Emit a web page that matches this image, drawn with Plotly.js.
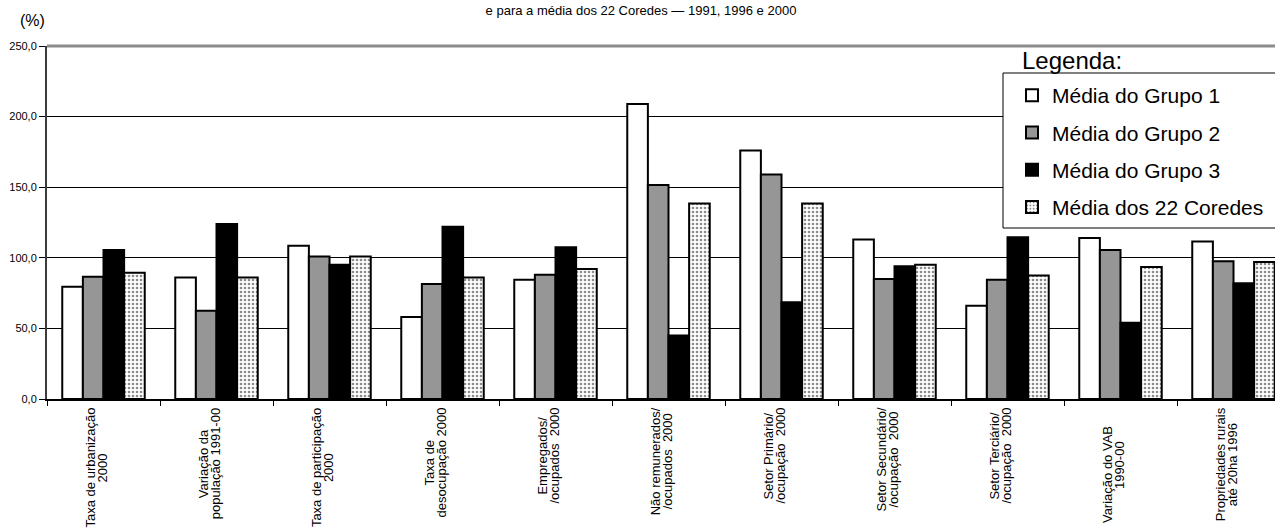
<!DOCTYPE html>
<html>
<head>
<meta charset="utf-8">
<script src="https://cdn.plot.ly/plotly-3.0.1.min.js"></script>
<style>html,body{margin:0;padding:0;background:#fff;overflow:hidden}</style>
</head>
<body>
<div id="chart" style="width:1275px;height:529px"></div>
<script>
// Category labels (x axis)
const categories = [
  "Taxa de urbanização<br>2000",
  "Variação da<br>população 1991-00",
  "Taxa de participação<br>2000",
  "Taxa de<br>desocupação 2000",
  "Empregados/<br>/ocupados\u00a0 2000",
  "Não remunerados/<br>/ocupados\u00a0 2000",
  "Setor Primário/<br>/ocupação\u00a0 2000",
  "Setor Secundário/<br>/ocupação\u00a0 2000",
  "Setor Terciário/<br>/ocupação\u00a0 2000",
  "Variação do VAB\u00a0\u00a0\u00a0\u00a0\u00a0<br>1990-00",
  "Propriedades rurais<br>até 20ha 1996"
];
// Series values (%)
const grupo1 = [79.5, 86, 108.5, 58, 84.5, 209, 176, 113, 66, 114, 111.5];
const grupo2 = [86.5, 62.5, 101, 81.5, 88, 151.5, 159, 85, 84.5, 105.5, 97.5];
const grupo3 = [105.5, 124, 95, 122, 107.5, 45, 68.5, 94, 114.5, 54, 82];
const coredes22 = [89.5, 86, 101, 86, 92, 138.5, 138.5, 95, 87.5, 93.5, 97];
const seriesNames = ["Média do Grupo 1", "Média do Grupo 2", "Média do Grupo 3", "Média dos 22 Coredes"];
const yTicks = [0, 50, 100, 150, 200, 250];

const FONT = "Liberation Sans, Arial, sans-serif";
const LABEL_SIZE = 13;
const LINE_PITCH = 12;
const line = {color: "#000", width: 2};

function bar(name, y, color, pattern, grp) {
  const t = {
    type: "bar", name: name, x: categories, y: y,
    legendgroup: grp,
    marker: {color: color, line: line},
    hoverinfo: "x+y"
  };
  if (pattern) t.marker.pattern = pattern;
  return t;
}

const data = [
  bar(seriesNames[0], grupo1, "#ffffff", null, "a"),
  bar(seriesNames[1], grupo2, "#969696", null, "b"),
  bar(seriesNames[2], grupo3, "#000000", null, "c"),
  bar(seriesNames[3], coredes22, "#ffffff",
      {shape: ".", fgcolor: "#8c8c8c", bgcolor: "#ffffff", size: 4, solidity: 0.35}, "d")
];

// measure text to centre the rotated two-line labels as a block
const ctx = document.createElement("canvas").getContext("2d");
ctx.font = LABEL_SIZE + 'px "Liberation Sans", Arial, sans-serif';

const annotations = [];
categories.forEach(c => {
  const lines = c.split("<br>");
  const maxLen = Math.max(...lines.map(s => ctx.measureText(s).width));
  lines.forEach((s, i) => {
    annotations.push({
      xref: "x", x: c, yref: "paper", y: 0, yanchor: "middle", xanchor: "center",
      yshift: -(9 + maxLen / 2), xshift: (i - (lines.length - 1) / 2) * LINE_PITCH - 7,
      textangle: -90, showarrow: false, borderpad: 0, borderwidth: 0,
      text: s, font: {family: FONT, size: LABEL_SIZE, color: "#000"}
    });
  });
});
annotations.push({
  xref: "paper", x: (32 - 47) / 1228, yref: "paper", y: (399 - 21) / 353,
  xanchor: "center", yanchor: "middle", showarrow: false,
  text: "(%)", font: {family: FONT, size: 16, color: "#000"}
});
annotations.push({
  xref: "paper", x: (1020 - 47) / 1228, yref: "paper", y: (399 - 61) / 353,
  xanchor: "left", yanchor: "middle", showarrow: false,
  text: "Legenda:", font: {family: FONT, size: 24, color: "#000"}
});

const layout = {
  width: 1275, height: 529,
  margin: {l: 47, r: 0, t: 46, b: 130, pad: 0},
  paper_bgcolor: "#fff", plot_bgcolor: "#fff",
  separators: ",.",
  font: {family: FONT, color: "#000"},
  title: {
    text: "e para a média dos 22 Coredes — 1991, 1996 e 2000",
    font: {family: FONT, size: 13, color: "#000"},
    x: 641 / 1275, xanchor: "center", xref: "container",
    y: 1 - 10 / 529, yanchor: "middle", yref: "container"
  },
  barmode: "group", bargap: 0.27, bargroupgap: 0,
  xaxis: {
    type: "category", range: [-0.5, -0.5 + 1228 / 113],
    showticklabels: false, ticks: "outside", tickson: "boundaries",
    ticklen: 5, tickcolor: "#000", tickwidth: 1,
    showline: true, linecolor: "#000", linewidth: 2,
    showgrid: false, zeroline: false, fixedrange: true
  },
  yaxis: {
    range: [0, 250], tickvals: yTicks, tickformat: ".1f",
    ticks: "outside", ticklen: 6, tickcolor: "#000", tickwidth: 1,
    tickfont: {family: FONT, size: 11, color: "#000"},
    showline: true, linecolor: "#3c3c3c", linewidth: 2,
    showgrid: true, gridcolor: "#000", gridwidth: 1,
    zeroline: false, fixedrange: true
  },
  showlegend: true,
  legend: {
    x: (1012 - 47) / 1228, xanchor: "left",
    y: (399 - 75) / 353, yanchor: "top",
    bgcolor: "rgba(0,0,0,0)", borderwidth: 0,
    traceorder: "grouped", tracegroupgap: 7,
    font: {family: FONT, size: 21, color: "#000"}
  },
  shapes: [
    {type: "line", xref: "paper", yref: "paper", x0: 0, x1: 1, y0: 1, y1: 1,
     line: {color: "#8c8c8c", width: 3}, layer: "above"},
    {type: "rect", xref: "paper", yref: "paper",
     x0: (1003 - 47) / 1228, x1: 1.05, y0: (399 - 228) / 353, y1: (399 - 73) / 353,
     fillcolor: "#fff", line: {color: "#000", width: 1}, layer: "above"}
  ],
  annotations: annotations
};

Plotly.newPlot("chart", data, layout, {displayModeBar: false, staticPlot: true});
</script>
</body>
</html>
